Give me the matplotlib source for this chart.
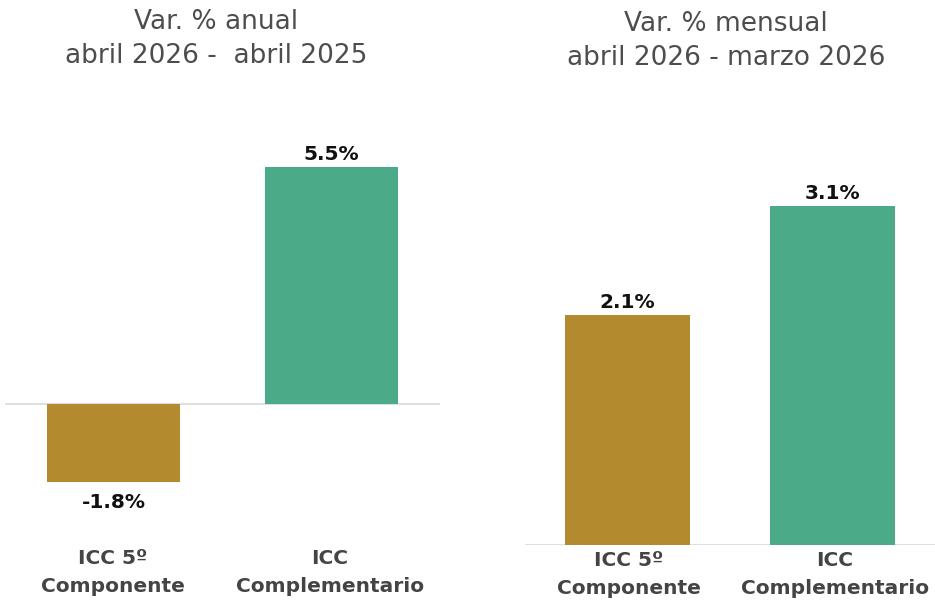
import matplotlib.pyplot as plt

# datos
categorias = ['ICC 5º\nComponente', 'ICC\nComplementario']
var_anual = [-1.8, 5.5]
var_mensual = [2.1, 3.1]
colores = ['#B38B2E', '#4BAA87']

titulo_anual = 'Var. % anual\nabril 2026 -  abril 2025'
titulo_mensual = 'Var. % mensual\nabril 2026 - marzo 2026'

fuente = 'DejaVu Sans'

W, H = 935, 606
fig = plt.figure(figsize=(W / 100, H / 100), dpi=100)

def pix_axes(x0, x1, ytop, ybot):
    return fig.add_axes([x0 / W, 1 - ybot / H, (x1 - x0) / W, (ybot - ytop) / H])

def dibujar(ax, valores, ymin, ymax):
    x = range(len(valores))
    ax.bar(x, valores, width=0.613, color=colores, zorder=2)
    ax.axhline(0, color='#d9d9d9', lw=1.2, zorder=1)
    ax.set_xlim(-0.5, 1.5)
    ax.set_ylim(ymin, ymax)
    ax.axis('off')
    for xi, v in zip(x, valores):
        if v >= 0:
            ax.annotate('%.1f%%' % v, (xi, v), xytext=(0, 2), textcoords='offset points',
                        ha='center', va='bottom', fontsize=14.5, fontweight='bold',
                        family=fuente, color='#111111')
        else:
            ax.annotate('%.1f%%' % v, (xi, v), xytext=(0, -8), textcoords='offset points',
                        ha='center', va='top', fontsize=14.5, fontweight='bold',
                        family=fuente, color='#111111')

# panel anual: base en y=404, 43.1 px por unidad
ax1 = pix_axes(5, 440, 120, 500)
dibujar(ax1, var_anual, -(500 - 404) / 43.1, (404 - 120) / 43.1)

# panel mensual: base en y=545, 109.5 px por unidad
ax2 = pix_axes(525, 935, 150, 545)
dibujar(ax2, var_mensual, 0, (545 - 150) / 109.5)

# titulos
fig.text(216 / W, 1 - 39 / H, titulo_anual, ha='center', va='center', fontsize=19,
         family=fuente, color='#4d4d4d', linespacing=1.42)
fig.text(726 / W, 1 - 41 / H, titulo_mensual, ha='center', va='center', fontsize=19,
         family=fuente, color='#4d4d4d', linespacing=1.42)

# categorias
for cx, lab in zip([113, 330], categorias):
    fig.text(cx / W, 1 - 572 / H, lab, ha='center', va='center', fontsize=14.5,
             fontweight='bold', family=fuente, color='#444444', linespacing=1.6)
for cx, lab in zip([629, 835], categorias):
    fig.text(cx / W, 1 - 575 / H, lab, ha='center', va='center', fontsize=14.5,
             fontweight='bold', family=fuente, color='#444444', linespacing=1.6)

fig.savefig('out.png', dpi=100, facecolor='white')
